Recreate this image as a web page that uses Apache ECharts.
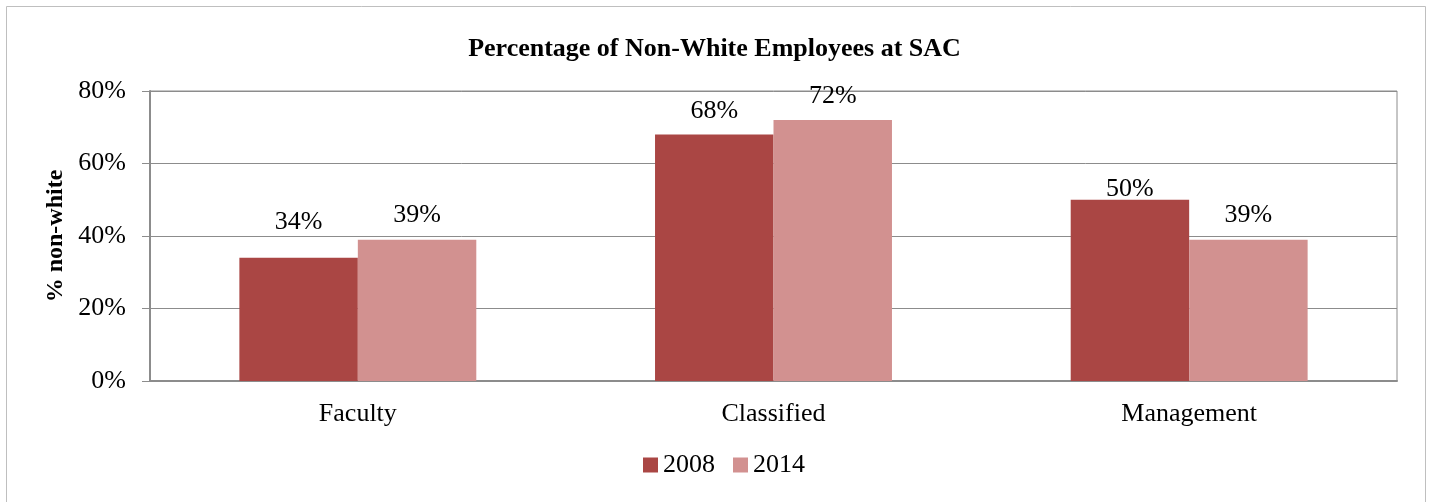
<!DOCTYPE html>
<html>
<head>
<meta charset="utf-8">
<script src="https://cdn.jsdelivr.net/npm/echarts@6/dist/echarts.min.js"></script>
<style>
html,body{margin:0;padding:0;background:#fff;}
#c{width:1429px;height:502px;}
</style>
</head>
<body>
<div id="c"></div>
<script>
const categories = ['Faculty', 'Classified', 'Management'];
const seriesNames = ['2008', '2014'];
const values2008 = [34, 68, 50];
const values2014 = [39, 72, 39];
const yTicks = [0, 20, 40, 60, 80];

// label placement (style only)
const labelDist2008 = [23, 10, -2];
const labelDist2014 = [11, 11, 11];

const font = '"Liberation Serif", "Times New Roman", serif';
const chart = echarts.init(document.getElementById('c'));
function labelCfg(d) {
  return {
    show: true, position: 'top', distance: d,
    fontFamily: font, fontSize: 26, color: '#000',
    formatter: p => p.value + '%'
  };
}
function buildData(vals, dists) {
  return vals.map((v, i) => ({ value: v, label: labelCfg(dists[i]) }));
}
chart.setOption({
  animation: false,
  backgroundColor: '#fff',
  title: {
    text: 'Percentage of Non-White Employees at SAC',
    left: 'center', top: 31,
    textStyle: { fontFamily: font, fontSize: 26, fontWeight: 'bold', color: '#000' }
  },
  graphic: [{
    type: 'rect', shape: { x: 6.5, y: 6.5, width: 1419, height: 500 },
    style: { fill: 'none', stroke: '#bfbfbf', lineWidth: 1 }, silent: true
  }],
  legend: {
    data: seriesNames, bottom: 19, left: 638,
    itemWidth: 15, itemHeight: 15, itemGap: 18,
    icon: 'rect',
    textStyle: { fontFamily: font, fontSize: 26, color: '#000', padding: [0, 0, 0, 0] }
  },
  grid: {
    left: 150, right: 32, top: 91, bottom: 121,
    show: true, borderColor: '#8c8c8c', borderWidth: 1
  },
  xAxis: {
    type: 'category', data: categories,
    axisLine: { lineStyle: { color: '#8c8c8c', width: 2 } },
    axisTick: { show: false },
    axisLabel: { fontFamily: font, fontSize: 26, color: '#000', margin: 20 }
  },
  yAxis: {
    type: 'value', min: yTicks[0], max: yTicks[yTicks.length - 1], interval: 20,
    name: '% non-white', nameLocation: 'middle', nameGap: 78, nameRotate: 90,
    nameTextStyle: { fontFamily: font, fontSize: 24, fontWeight: 'bold', color: '#000' },
    axisLine: { show: true, lineStyle: { color: '#8c8c8c', width: 2 } },
    axisTick: { show: true, length: 8, lineStyle: { color: '#8c8c8c', width: 1 } },
    splitLine: { lineStyle: { color: '#8c8c8c', width: 1 } },
    axisLabel: { fontFamily: font, fontSize: 26, color: '#000', margin: 24, formatter: v => v + '%' }
  },
  series: [
    { name: seriesNames[0], type: 'bar', data: buildData(values2008, labelDist2008), barGap: '0%', barCategoryGap: '43%',
      itemStyle: { color: '#AA4644' } },
    { name: seriesNames[1], type: 'bar', data: buildData(values2014, labelDist2014), barGap: '0%', barCategoryGap: '43%',
      itemStyle: { color: '#D29190' } }
  ]
});
</script>
</body>
</html>
